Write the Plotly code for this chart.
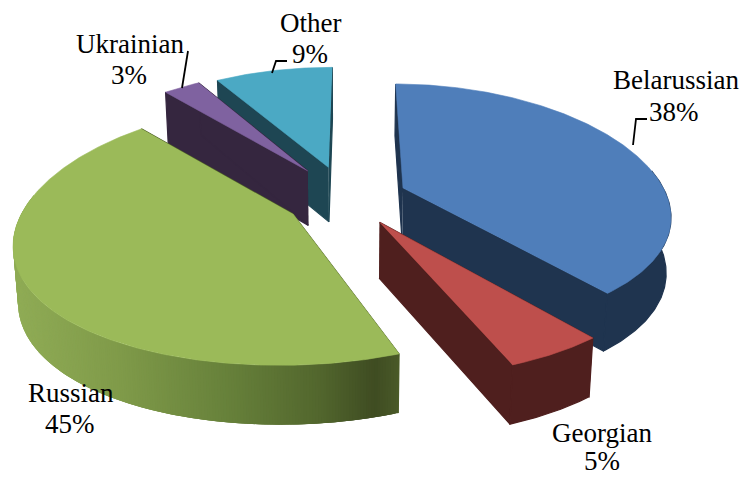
import numpy as np
import plotly.graph_objects as go

names = ["Belarussian", "Georgian", "Russian", "Ukrainian", "Other"]
shares = [38, 5, 45, 3, 9]
top_colors = ["#4F7EBA", "#BE4F4C", "#9BBA59", "#7F62A0", "#4BA9C4"]
side_colors = ["#1F344F", "#4F1F1E", "#4F6029", "#35263F", "#1E4653"]
draw_order = [4, 3, 0, 2, 1]

# label line centres (name, percentage)
label_pos = {"Belarussian": ((676, 80), (674, 112)), "Georgian": ((602, 433), (602, 461)),
             "Russian": ((71, 393), (70, 424)), "Ukrainian": ((130, 44), (129, 75)),
             "Other": ((310, 23), (310, 54))}
leaders = [[(633, 145), (636, 119), (647, 119)],
           [(272, 73), (276, 61), (287, 61)],
           [(182, 88), (188, 51)]]

# projection of the tilted disc
CX, CY, A, B, P, PX, D, SHRINK, EXPLODE, ROT = 345, 198, 264.5, 123, 0.153, 0.2, 55, 0.985, 0.23, 1.0
# the perspective distorts each wedge's apparent sweep (degrees at start, end)
TRIM = {"Russian": (3.5, 0.0), "Belarussian": (-0.5, 3.0), "Georgian": (3.2, 2.8),
        "Ukrainian": (1.0, 0.0), "Other": (0.0, -0.7)}
# small screen offsets of the exploded wedges
NUDGE = {"Belarussian": (2, 0), "Ukrainian": (-2, -5), "Other": (-1, -4)}


def project(X, Y, low=False):
    X, Y = np.asarray(X, float), np.asarray(Y, float)
    w = 1 + P * Y
    x = CX + A * X / (1 + PX * Y)
    y = CY - B * Y / w
    if low:
        x = CX + (x - CX) * SHRINK
        y = y + D / w ** 0.4
    return x, y


def hexmix(stops, t):
    xs = [s[0] for s in stops]
    rgb = [np.interp(t, xs, [int(s[1][i:i + 2], 16) for s in stops]) for i in (1, 3, 5)]
    return "rgb(%d,%d,%d)" % tuple(int(round(v)) for v in rgb)


GREEN_RIM = [(18, "#8FAB55"), (120, "#7F9A49"), (230, "#66803A"), (320, "#52662D"),
             (375, "#3F4C22"), (400, "#4A5A28")]

fig = go.Figure()


def poly(xs, ys, color, width=0.6, shift=(0, 0)):
    fig.add_trace(go.Scatter(x=list(np.asarray(xs) + shift[0]), y=list(np.asarray(ys) + shift[1]),
                             mode="lines", fill="toself", fillcolor=color,
                             line=dict(color=color, width=width), hoverinfo="skip", showlegend=False))


starts = np.cumsum([0] + shares[:-1]) / sum(shares) * 360 + ROT
sweeps = np.array(shares) / sum(shares) * 360

for i in draw_order:
    d0, d1 = TRIM.get(names[i], (0.0, 0.0))
    nud = NUDGE.get(names[i], (0, 0))
    mid = np.radians(starts[i] + sweeps[i] / 2)
    t = np.radians(np.linspace(starts[i] + d0, starts[i] + sweeps[i] + d1,
                               max(24, int(sweeps[i] * 2))))
    ox, oy = EXPLODE * np.sin(mid), EXPLODE * np.cos(mid)
    rx, ry = ox + np.sin(t), oy + np.cos(t)
    ax_t, ay_t = project(ox, oy)
    ax_b, ay_b = project(ox, oy, True)
    xt, yt = project(rx, ry)
    xb, yb = project(rx, ry, True)
    # cut faces
    for k in (0, -1):
        poly([ax_t, xt[k], xb[k], ax_b], [ay_t, yt[k], yb[k], ay_b], side_colors[i], 1.2, nud)
    # curved rim: only the part facing the viewer
    vis = np.where(np.cos(t) < P)[0]
    if len(vis) > 1:
        if names[i] == "Russian":
            for k in vis[:-1]:
                e = min(k + 3, vis[-1])
                seg = np.arange(k, e + 1)
                col = hexmix(GREEN_RIM, (xt[k] + xt[k + 1]) / 2)
                poly(np.r_[xt[seg], xb[seg][::-1]], np.r_[yt[seg], yb[seg][::-1]], col, 0, nud)
        else:
            poly(np.r_[xt[vis], xb[vis][::-1]], np.r_[yt[vis], yb[vis][::-1]], side_colors[i], 1.2, nud)
    # top
    poly(np.r_[ax_t, xt], np.r_[ay_t, yt], top_colors[i], shift=nud)

for pts in leaders:
    fig.add_trace(go.Scatter(x=[p[0] for p in pts], y=[p[1] for p in pts], mode="lines",
                             line=dict(color="#000000", width=1.8), hoverinfo="skip", showlegend=False))

for n, s in zip(names, shares):
    for (lx, ly), txt in zip(label_pos[n], (n, f"{s}%")):
        fig.add_annotation(x=lx, y=ly, text=txt, showarrow=False, align="center",
                           font=dict(family="Liberation Serif", size=27, color="#000000"))

fig.update_layout(width=740, height=477, margin=dict(l=0, r=0, t=0, b=0), paper_bgcolor="white",
                  plot_bgcolor="white", showlegend=False,
                  xaxis=dict(range=[0, 740], visible=False, fixedrange=True),
                  yaxis=dict(range=[477, 0], visible=False, fixedrange=True))
fig.write_html("out.html", config={"displayModeBar": False},
               post_script="document.body.style.margin='0';document.documentElement.style.overflow='hidden';")
